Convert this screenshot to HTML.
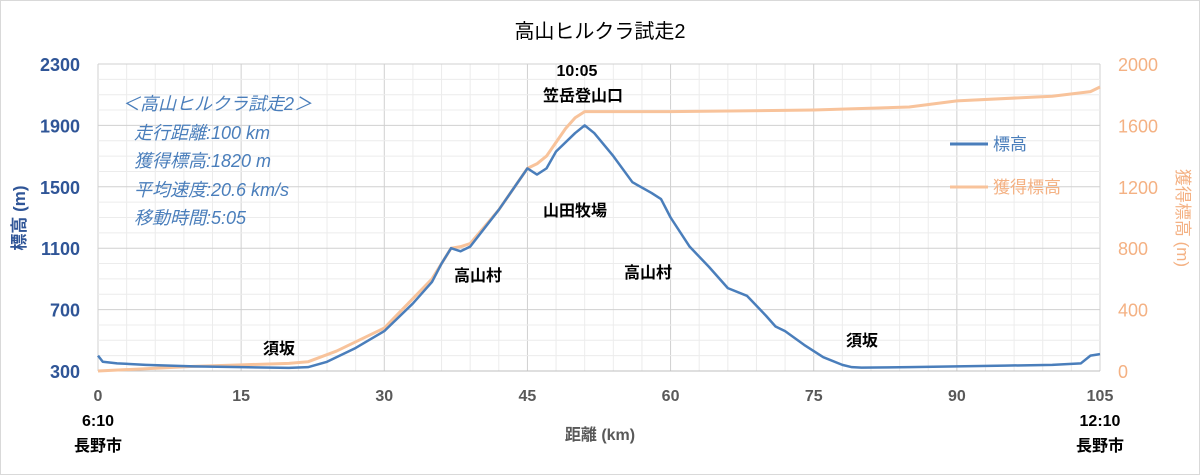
<!DOCTYPE html>
<html><head><meta charset="utf-8">
<style>
html,body{margin:0;padding:0;background:#fff}
svg{display:block;font-family:"Liberation Sans","Noto Sans CJK JP",sans-serif}
</style></head>
<body>
<svg id="c" width="1200" height="475" viewBox="0 0 1200 475">
<rect x="0.5" y="0.5" width="1199" height="474" fill="#fff" stroke="#d9d9d9"/>
<text x="600" y="38" text-anchor="middle" font-size="20" fill="#000">高山ヒルクラ試走2</text>
<g id="grid"></g>
<g id="axes"></g>
<g id="series"></g>
<g font-style="italic" fill="#4a7ebb" font-size="18">
<text x="122" y="110">＜高山ヒルクラ試走2＞</text>
<text x="134" y="139">走行距離:100 km</text>
<text x="134" y="167">獲得標高:1820 m</text>
<text x="134" y="196">平均速度:20.6 km/s</text>
<text x="134" y="224">移動時間:5:05</text>
</g>
<g font-size="16" font-weight="bold" fill="#000" text-anchor="middle">
<text x="577" y="76">10:05</text>
<text x="583" y="101">笠岳登山口</text>
<text x="279" y="354">須坂</text>
<text x="478" y="281">高山村</text>
<text x="575" y="216">山田牧場</text>
<text x="648" y="278">高山村</text>
<text x="862" y="346">須坂</text>
<text x="98" y="426">6:10</text>
<text x="98" y="451">長野市</text>
<text x="1100" y="426">12:10</text>
<text x="1100" y="451">長野市</text>
</g>
<text x="600" y="440" text-anchor="middle" font-size="16" font-weight="bold" fill="#595959">距離 (km)</text>
<text transform="translate(25,218) rotate(-90)" text-anchor="middle" font-size="17" font-weight="bold" fill="#2f5597">標高 (m)</text>
<text transform="translate(1177,218) rotate(90)" text-anchor="middle" font-size="17" fill="#f4b183">獲得標高 (m)</text>
<g>
<line x1="950" y1="144" x2="988" y2="144" stroke="#4a7ebb" stroke-width="3"/>
<text x="993" y="150" font-size="17" fill="#4a7ebb">標高</text>
<line x1="950" y1="187" x2="988" y2="187" stroke="#f8c39b" stroke-width="3"/>
<text x="993" y="193" font-size="17" fill="#f4b183">獲得標高</text>
</g>
</svg>
<script>
const distKm=[0,0.5,2,5,10,15,20,22,24,27,30,33,35,36,37,38,39,42,45,46,47,48,50,51,52,54,56,58,59,60,62,64,66,68,70,71,72,74,76,78,79,80,85,90,95,100,103,104,105];
const elevation=[400,360,350,340,330,325,320,325,360,450,560,740,880,1000,1100,1080,1110,1350,1620,1580,1620,1730,1850,1900,1850,1700,1530,1460,1420,1300,1110,980,840,790,660,590,560,470,390,340,325,322,325,330,335,340,350,400,410];
const gainKm=[0,5,10,15,20,22,25,30,35,37,38,39,42,45,46,47,49,50,51,60,75,85,90,100,104,105];
const gain=[0,15,30,40,50,60,130,280,600,800,810,830,1050,1320,1350,1400,1580,1650,1690,1690,1700,1720,1760,1790,1820,1850];
const xTicks=[0,15,30,45,60,75,90,105];
const yLeftTicks=[300,700,1100,1500,1900,2300];
const yRightTicks=[0,400,800,1200,1600,2000];
const NS="http://www.w3.org/2000/svg";
const X0=98,X1=1100,YB=371,YT=64;
const xs=k=>X0+(k/105)*(X1-X0);
const yl=v=>YB-(v-300)/2000*(YB-YT);
const yr=v=>YB-v/2000*(YB-YT);
function mk(tag,attrs,parent){const e=document.createElementNS(NS,tag);for(const k in attrs)e.setAttribute(k,attrs[k]);parent.appendChild(e);return e;}
const grid=document.getElementById('grid'),axes=document.getElementById('axes'),series=document.getElementById('series');
for(let k=0;k<=105;k+=3){const l=mk('line',{x1:xs(k),x2:xs(k),y1:YT,y2:YB,stroke:k%15===0?'#d0d0d0':'#ececec','stroke-width':1},grid);

}
for(let v=300;v<=2300;v+=100){const l=mk('line',{x1:X0,x2:X1,y1:yl(v),y2:yl(v),stroke:(v-300)%400===0?'#d0d0d0':'#ececec','stroke-width':1},grid);

}
const ax=mk('line',{x1:X0,x2:X1,y1:YB,y2:YB,stroke:'#bfbfbf'},axes);


xTicks.forEach(k=>{const t=mk('text',{x:xs(k),y:401,'text-anchor':'middle','font-size':16,'font-weight':'bold',fill:'#595959'},axes);t.textContent=k;

});
yLeftTicks.forEach(v=>{const t=mk('text',{x:80,y:yl(v)+7,'text-anchor':'end','font-size':18,'font-weight':'bold',fill:'#2f5597'},axes);t.textContent=v;

});
yRightTicks.forEach(v=>{const t=mk('text',{x:1118,y:yr(v)+7,'font-size':18,fill:'#f4b183'},axes);t.textContent=v;

});
const pg=mk('polyline',{points:gainKm.map((k,i)=>xs(k)+','+yr(gain[i])).join(' '),fill:'none',stroke:'#f8c39b','stroke-width':3,'stroke-linejoin':'round'},series);


const pe=mk('polyline',{points:distKm.map((k,i)=>xs(k)+','+yl(elevation[i])).join(' '),fill:'none',stroke:'#4a7ebb','stroke-width':2.5,'stroke-linejoin':'round'},series);


</script>
</body></html>
